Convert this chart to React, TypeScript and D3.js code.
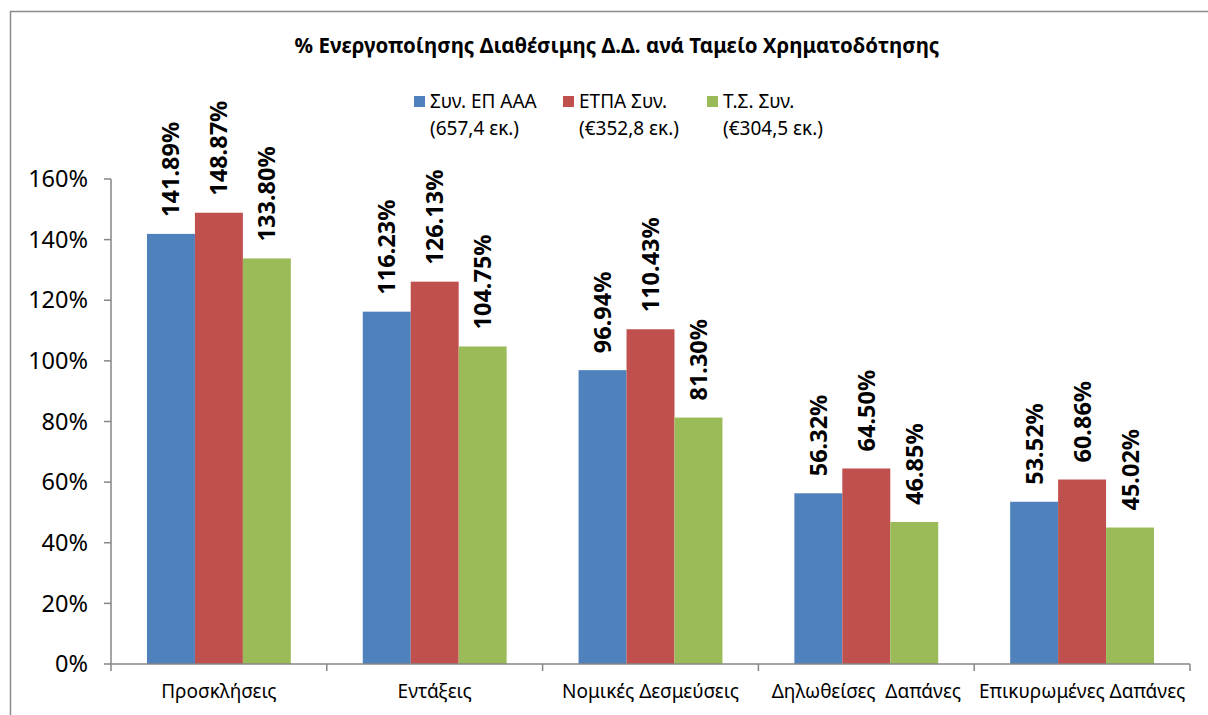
import React from "react";
import * as d3 from "d3";

const categories = ["Προσκλήσεις", "Εντάξεις", "Νομικές Δεσμεύσεις", "Δηλωθείσες  Δαπάνες", "Επικυρωμένες Δαπάνες"];
const seriesNames = ["Συν. ΕΠ ΑΑΑ", "ΕΤΠΑ Συν.", "Τ.Σ. Συν."];
const seriesSub = ["(657,4 εκ.)", "(€352,8 εκ.)", "(€304,5 εκ.)"];
const seriesColors = ["#4F81BD", "#C0504D", "#9BBB59"];
const valuesA = [141.89, 116.23, 96.94, 56.32, 53.52];
const valuesB = [148.87, 126.13, 110.43, 64.5, 60.86];
const valuesC = [133.8, 104.75, 81.3, 46.85, 45.02];
const yTicks = [0, 20, 40, 60, 80, 100, 120, 140, 160];
const title = "% Ενεργοποίησης Διαθέσιμης Δ.Δ. ανά Ταμείο Χρηματοδότησης";

const W = 1208;
const H = 715;
const FONT = "'Noto Sans', sans-serif";

export default function App() {
  const series = [valuesA, valuesB, valuesC];
  const left = 111, right = 1190, top = 179, bottom = 664;
  const x0 = d3.scaleBand<string>().domain(categories).range([left, right]).paddingInner(0).paddingOuter(0);
  const y = d3.scaleLinear().domain([0, 160]).range([bottom, top]);
  const bw = x0.bandwidth() / 4.5;
  const axisColor = "#868686";
  const legendX = [414, 563, 707];

  return (
    <svg width={W} height={H} style={{ position: "absolute", left: 0, top: 0 }} xmlns="http://www.w3.org/2000/svg">
      <rect x={0} y={0} width={W} height={H} fill="#fff" />
      <rect x={10.5} y={11.5} width={W + 10} height={H + 10} fill="none" stroke="#8c8c8c" strokeWidth={1.5} />
      <text x={617} y={53} textAnchor="middle" fontFamily={FONT} fontWeight="bold" fontSize={20.5} fill="#000">{title}</text>
      {seriesNames.map((n, i) => (
        <g key={n}>
          <rect x={legendX[i]} y={96} width={11} height={11} fill={seriesColors[i]} />
          <text x={legendX[i] + 16} y={108} fontFamily={FONT} fontSize={19} fill="#000">{n}</text>
          <text x={legendX[i] + 16} y={135} fontFamily={FONT} fontSize={19} fill="#000">{seriesSub[i]}</text>
        </g>
      ))}
      {categories.map((c, ci) => (
        <g key={c}>
          {series.map((vals, si) => {
            const bx = (x0(c) as number) + bw * 0.75 + si * bw;
            const v = vals[ci];
            const cx = bx + bw / 2;
            const ty = y(v) - 17;
            return (
              <g key={si}>
                <rect x={bx} y={y(v)} width={bw} height={bottom - y(v)} fill={seriesColors[si]} />
                <text transform={`translate(${cx},${ty}) rotate(-90)`} dy="0.36em" fontFamily={FONT} fontWeight="bold" fontSize={23.5} fill="#000">{v.toFixed(2) + "%"}</text>
              </g>
            );
          })}
          <text x={(x0(c) as number) + x0.bandwidth() / 2} y={698} textAnchor="middle" fontFamily={FONT} fontSize={19} fill="#000" style={{ whiteSpace: "pre" }}>{c}</text>
        </g>
      ))}
      <line x1={left} x2={left} y1={top} y2={bottom} stroke={axisColor} strokeWidth={1.5} />
      <line x1={left} x2={right} y1={bottom} y2={bottom} stroke={axisColor} strokeWidth={1.5} />
      {yTicks.map((t) => (
        <g key={t}>
          <line x1={104} x2={left} y1={y(t)} y2={y(t)} stroke={axisColor} strokeWidth={1.5} />
          <text x={88} y={y(t)} dy="0.35em" textAnchor="end" fontFamily={FONT} fontSize={23.5} fill="#000">{t + "%"}</text>
        </g>
      ))}
      {[...categories.map((c) => x0(c) as number), right].map((xv, i) => (
        <line key={i} x1={xv} x2={xv} y1={bottom} y2={bottom + 7} stroke={axisColor} strokeWidth={1.5} />
      ))}
    </svg>
  );
}
